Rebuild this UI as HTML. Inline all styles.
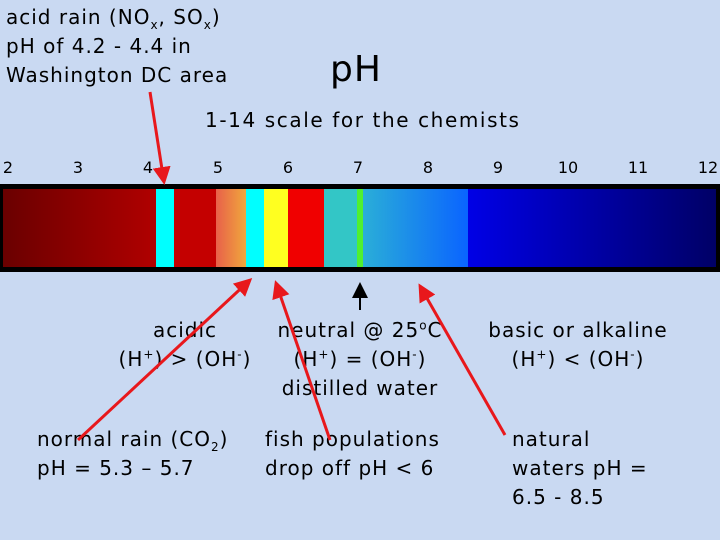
<!DOCTYPE html>
<html><head><meta charset="utf-8"><style>
body{margin:0}
#s{position:relative;width:720px;height:540px;background:#c9d9f2;overflow:hidden;font-family:"DejaVu Sans","Liberation Sans",sans-serif;color:#000}
.t{position:absolute;font-size:20px;line-height:29px;white-space:nowrap;letter-spacing:1px}
.c{text-align:center}
.tick{position:absolute;top:158px;font-size:16px;transform:translateX(-50%)}
sub,sup{font-size:12px;line-height:0}
</style></head><body>
<div id="s">
<div class="t" style="left:6px;top:3px">acid rain (NO<sub>x</sub>, SO<sub>x</sub>)<br>pH of 4.2 - 4.4 in<br>Washington DC area</div>
<div class="t" style="left:330px;top:50px;font-size:36px;line-height:40px">pH</div>
<div class="t" style="left:205px;top:106px;letter-spacing:1.6px">1-14 scale for the chemists</div>
<div id="ticks"></div>
<div style="position:absolute;left:0;top:184px;width:720px;height:88px;background:#000"></div>
<div id="bar"></div>
<div class="t c" style="left:95px;top:316px;width:180px">acidic<br>(H<sup>+</sup>) &gt; (OH<sup>-</sup>)</div>
<div class="t c" style="left:255px;top:316px;width:210px">neutral @ 25<sup>o</sup>C<br>(H<sup>+</sup>) = (OH<sup>-</sup>)<br>distilled water</div>
<div class="t c" style="left:470px;top:316px;width:216px">basic or alkaline<br>(H<sup>+</sup>) &lt; (OH<sup>-</sup>)</div>
<div class="t" style="left:37px;top:425px">normal rain (CO<sub>2</sub>)<br>pH = 5.3 – 5.7</div>
<div class="t" style="left:265px;top:425px">fish populations<br>drop off pH &lt; 6</div>
<div class="t" style="left:512px;top:425px">natural<br>waters pH =<br>6.5 - 8.5</div>
<svg width="720" height="540" style="position:absolute;left:0;top:0">
<defs><marker id="ar" markerWidth="6" markerHeight="6" refX="5" refY="3" orient="auto"><path d="M0,0 L6,3 L0,6 z" fill="#e8181c"/></marker>
<marker id="ak" markerWidth="8" markerHeight="8" refX="6" refY="4" orient="auto"><path d="M0,0 L8,4 L0,8 z" fill="#000"/></marker></defs>
<g stroke="#e8181c" stroke-width="3" fill="none">
<line x1="150" y1="92" x2="164" y2="182" marker-end="url(#ar)"/>
<line x1="78" y1="440" x2="250" y2="280" marker-end="url(#ar)"/>
<line x1="330" y1="440" x2="276" y2="283" marker-end="url(#ar)"/>
<line x1="505" y1="435" x2="420" y2="286" marker-end="url(#ar)"/>
</g>
<line x1="360" y1="310" x2="360" y2="286" stroke="#000" stroke-width="2" marker-end="url(#ak)"/>
</svg>
</div>
<script>
const ticks=["2","3","4","5","6","7","8","9","10","11","12"];
const tickX=v=>8+(v-2)*70;
const tk=document.getElementById('ticks');
ticks.forEach(t=>{const d=document.createElement('div');d.className='tick';d.style.left=tickX(+t)+'px';d.textContent=t;


tk.appendChild(d);});
const segStart=[3,156,174,216,246,264,288,324,357,363,468];
const segEnd=[156,174,216,246,264,288,324,357,363,468,716];
const segColor=["linear-gradient(90deg,#6a0000,#b00000)","#00ffff","#c40000","linear-gradient(90deg,#e8604a,#f0a83c)","#00ffff","#ffff20","#f00000","#33c6c6","#50f030","linear-gradient(90deg,#2aaed8,#0a64ff)","linear-gradient(90deg,#0000e6,#000066)"];
const bar=document.getElementById('bar');
segStart.forEach((s,i)=>{const d=document.createElement('div');
d.style.cssText='position:absolute;top:189px;height:78px;left:'+s+'px;width:'+(segEnd[i]-s)+'px;background:'+segColor[i];


bar.appendChild(d);});
</script>
</body></html>
